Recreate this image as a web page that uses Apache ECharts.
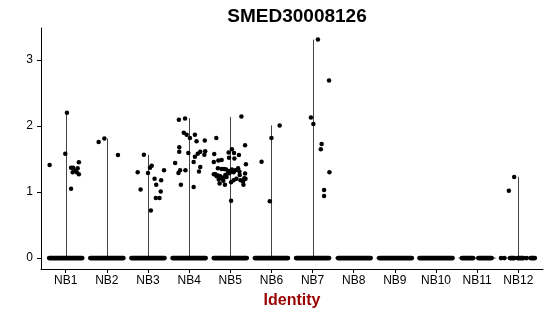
<!DOCTYPE html>
<html>
<head>
<meta charset="utf-8">
<script src="https://cdn.jsdelivr.net/npm/echarts@6/dist/echarts.min.js"></script>
<style>html,body{margin:0;padding:0;background:#fff}#c{width:550px;height:316px}</style>
</head>
<body>
<div id="c"></div>
<script>
// ---- data ----
const categories = ['NB1','NB2','NB3','NB4','NB5','NB6','NB7','NB8','NB9','NB10','NB11','NB12'];
const yTicks = [0, 1, 2, 3];
// top of each violin (max expression); null = all zero
const violinMax = [2.20, 1.81, 1.565, 2.12, 2.14, 2.01, 3.31, null, null, null, null, 1.23];

// non-zero cells: values and their horizontal jitter (in category units)
const nb1Values = [2.20, 1.58, 1.41, 1.37, 1.37, 1.45, 1.36, 1.30, 1.32, 1.30, 1.27, 1.05];
const nb1Jitter = [0.03, -0.01, -0.39, 0.13, 0.18, 0.32, 0.29, 0.17, 0.23, 0.27, 0.32, 0.13];
const nb2Values = [1.76, 1.81, 1.56];
const nb2Jitter = [-0.20, -0.06, 0.27];
const nb3Values = [1.565, 1.30, 1.29, 1.37, 1.40, 1.33, 1.20, 1.18, 1.11, 1.04, 1.01, 0.91, 0.91, 0.72];
const nb3Jitter = [-0.10, -0.25, 0.00, 0.05, 0.09, 0.39, 0.16, 0.32, 0.20, -0.18, 0.31, 0.19, 0.28, 0.07];
const nb4Values = [2.095, 2.115, 1.90, 1.87, 1.87, 1.82, 1.77, 1.78, 1.68, 1.61, 1.59, 1.61, 1.62, 1.58, 1.565, 1.535, 1.44, 1.455, 1.33, 1.29, 1.33, 1.38, 1.31, 1.11, 1.075];
const nb4Jitter = [-0.25, -0.10, -0.13, -0.06, 0.14, 0.02, 0.18, 0.38, -0.24, -0.24, -0.02, 0.27, 0.39, 0.21, 0.37, 0.14, -0.34, 0.11, -0.22, -0.26, -0.09, 0.27, 0.24, -0.20, 0.11];
const nb5Values = [2.145, 1.82, 1.71, 1.575, 1.455, 1.27, 1.65, 1.60, 1.59, 1.52, 1.51, 1.56, 1.48, 1.485, 1.42,
  1.36, 1.31, 1.26, 1.28, 1.21, 1.20, 1.16, 1.11, 1.20, 1.18, 1.13, 1.11, 1.17, 1.18, 0.87,
  1.36, 1.35, 1.35, 1.34, 1.32, 1.31, 1.34, 1.29, 1.27, 1.25, 1.24, 1.21, 1.22, 1.23, 1.24,
  1.28, 1.30, 1.26, 1.33, 1.19, 1.15];
const nb5Jitter = [0.27, -0.34, 0.36, -0.39, -0.40, -0.40, 0.04, -0.04, 0.09, -0.03, 0.10, 0.21, -0.29, -0.21, 0.38,
  0.19, 0.22, 0.23, 0.36, 0.34, 0.37, 0.31, 0.32, 0.15, 0.25, -0.26, -0.13, -0.17, 0.08, 0.02,
  -0.30, -0.21, -0.15, -0.10, -0.03, 0.03, 0.04, -0.02, -0.36, -0.30, -0.24, -0.20, -0.16, -0.09, -0.33,
  -0.06, 0.08, -0.12, 0.12, -0.28, 0.02];
const nb6Values = [2.01, 1.82, 1.46, 0.86];
const nb6Jitter = [0.20, 0.00, -0.24, -0.04];
const nb7Values = [3.31, 2.69, 2.13, 2.03, 1.73, 1.65, 1.30, 1.03, 0.94];
const nb7Jitter = [0.13, 0.40, -0.04, 0.02, 0.22, 0.20, 0.41, 0.28, 0.28];
const nb12Values = [1.23, 1.02];
const nb12Jitter = [-0.10, -0.23];

// horizontal extents of the runs of zero-valued cells (category units)
const zeroRuns = [
  [[-0.40, 0.40]], [[-0.40, 0.40]], [[-0.40, 0.40]], [[-0.40, 0.40]], [[-0.40, 0.40]],
  [[-0.40, 0.40]], [[-0.40, 0.40]], [[-0.38, 0.41]], [[-0.38, 0.41]], [[-0.40, 0.40]],
  [[-0.37, -0.10], [0.03, 0.35]],
  [[-0.42, -0.42], [-0.34, -0.34], [-0.20, -0.10], [-0.02, 0.12], [0.20, 0.20], [0.30, 0.40]]
];

// ---- build series data ----
const groups = [
  [0, nb1Values, nb1Jitter], [1, nb2Values, nb2Jitter], [2, nb3Values, nb3Jitter],
  [3, nb4Values, nb4Jitter], [4, nb5Values, nb5Jitter], [5, nb6Values, nb6Jitter],
  [6, nb7Values, nb7Jitter], [11, nb12Values, nb12Jitter]
];
const pointData = [];
groups.forEach(([ci, vals, jit]) => {
  vals.forEach((v, k) => pointData.push([ci + 1 + jit[k], v]));
});
const violinData = [];
violinMax.forEach((m, i) => { if (m !== null) violinData.push([i + 1, m]); });
const baseData = categories.map((c, i) => [i + 1]);
const runData = [];
zeroRuns.forEach((runs, i) => runs.forEach(r => runData.push([i + 1, r[0], r[1]])));

const chart = echarts.init(document.getElementById('c'), null, {renderer: 'canvas'});
const FONT = 'Liberation Sans, Arial, Helvetica, sans-serif';
chart.setOption({
  animation: false,
  backgroundColor: '#ffffff',
  title: {
    text: 'SMED30008126',
    left: 292, top: 2, textAlign: 'center',
    textStyle: {fontFamily: FONT, fontWeight: 'bold', fontSize: 19, color: '#000'}
  },
  grid: {left: 41, right: 7, top: 28, bottom: 47, containLabel: false, outerBoundsMode: 'none'},
  xAxis: {
    type: 'value', min: 0.4, max: 12.6,
    name: 'Identity', nameLocation: 'middle', nameGap: 24,
    nameTextStyle: {fontFamily: FONT, fontWeight: 'bold', fontSize: 16, color: '#990000'},
    axisLine: {onZero: false, lineStyle: {color: '#000', width: 1}},
    axisTick: {show: true, length: 4, customValues: categories.map((c, i) => i + 1), lineStyle: {color: '#000'}},
    axisLabel: {customValues: categories.map((c, i) => i + 1), formatter: v => categories[Math.round(v) - 1],
      fontFamily: FONT, fontSize: 12, color: '#000', margin: 6},
    splitLine: {show: false}
  },
  yAxis: {
    type: 'value', min: -0.166, max: 3.486,
    axisLine: {show: true, onZero: false, lineStyle: {color: '#000', width: 1}},
    axisTick: {show: true, length: 4, customValues: yTicks, lineStyle: {color: '#000'}},
    axisLabel: {customValues: yTicks, fontFamily: FONT, fontSize: 12, color: '#000', margin: 8},
    splitLine: {show: false}
  },
  series: [
    {
      type: 'custom', name: 'violinBase', data: baseData, z: 1,
      renderItem: (params, api) => {
        const c = api.value(0);
        const a = api.coord([c - 0.45, 0]), b = api.coord([c + 0.45, 0]);
        return {type: 'line', shape: {x1: a[0], y1: a[1], x2: b[0], y2: b[1]}, style: {stroke: '#333', lineWidth: 1}};
      }
    },
    {
      type: 'custom', name: 'violin', data: violinData, z: 2,
      renderItem: (params, api) => {
        const c = api.value(0), m = api.value(1);
        const a = api.coord([c, 0]), b = api.coord([c, m]);
        const x = Math.round(a[0]) + 0.5;
        return {type: 'line', shape: {x1: x, y1: a[1], x2: x, y2: b[1]}, style: {stroke: '#444', lineWidth: 1}};
      }
    },
    {
      type: 'custom', name: 'zeros', data: runData, z: 3,
      renderItem: (params, api) => {
        const c = api.value(0);
        const a = api.coord([c + api.value(1), 0]), b = api.coord([c + api.value(2), 0]);
        const r = 2.4;
        return {type: 'rect', shape: {x: a[0] - r, y: a[1] - r, width: b[0] - a[0] + 2 * r, height: 2 * r, r: r},
          style: {fill: '#000'}};
      }
    },
    {
      type: 'scatter', name: 'cells', data: pointData, symbol: 'circle', symbolSize: 4.5, z: 4,
      itemStyle: {color: '#000', opacity: 1}
    }
  ]
});
</script>
</body>
</html>
